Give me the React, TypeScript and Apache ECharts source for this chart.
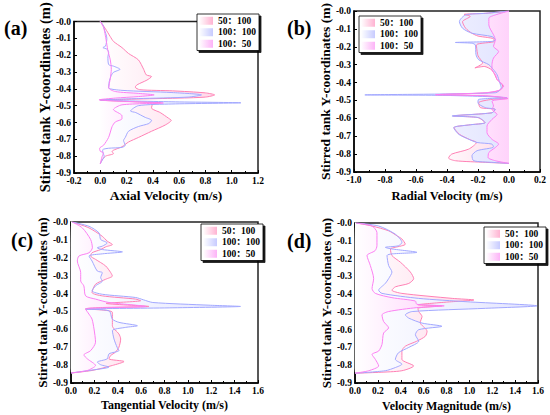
import React, { useEffect, useRef } from 'react';
import * as echarts from 'echarts';

const FONT = '"Liberation Serif", "Times New Roman", "Noto Sans CJK SC", serif';

const seriesNames = ['50：100', '100：100', '100：50'];
const panelLabels = ['(a)', '(b)', '(c)', '(d)'];
const xTitles = ['Axial Velocity (m/s)', 'Radial Velocity (m/s)', 'Tangential Velocity (m/s)', 'Velocity Magnitude (m/s)'];
const yTitle = 'Stirred tank Y-coordinates (m)';
const xMins = [-0.2, -1.0, 0, 0];
const xMaxs = [1.2, 0.2, 1.6, 1.6];
const yMin = -0.9;
const yMax = 0;

// (a) Axial velocity
const axial_50_100 = [[0,0],[0.04,-0.044],[0.076,-0.09],[0.10,-0.118],[0.165,-0.155],[0.215,-0.19],[0.29,-0.228],[0.33,-0.284],[0.35,-0.317],[0.39,-0.327],[0.355,-0.348],[0.28,-0.376],[0.266,-0.39],[0.30,-0.405],[0.55,-0.412],[0.80,-0.424],[0.87,-0.436],[0.80,-0.449],[0.55,-0.456],[0.2,-0.462],[0.0,-0.467],[0.3,-0.478],[0.46,-0.483],[0.40,-0.49],[0.39,-0.514],[0.456,-0.541],[0.52,-0.575],[0.54,-0.587],[0.494,-0.615],[0.39,-0.652],[0.29,-0.689],[0.215,-0.716],[0.165,-0.744],[0.09,-0.772],[0.10,-0.785],[0.04,-0.80],[0.01,-0.827],[0,-0.845]];
const axial_100_100 = [[0,0],[0.02,-0.02],[0.03,-0.044],[0.05,-0.1],[0.04,-0.146],[0.02,-0.155],[0.05,-0.164],[0.064,-0.182],[0.058,-0.21],[0.064,-0.256],[0.10,-0.265],[0.15,-0.284],[0.10,-0.302],[0.084,-0.32],[0.068,-0.357],[0.064,-0.394],[0.165,-0.409],[0.545,-0.422],[0.77,-0.436],[0.67,-0.449],[0.29,-0.458],[0,-0.466],[0.545,-0.477],[1.07,-0.483],[0.545,-0.49],[0.29,-0.50],[0.23,-0.532],[0.27,-0.541],[0.34,-0.569],[0.39,-0.587],[0.37,-0.606],[0.29,-0.624],[0.215,-0.652],[0.19,-0.689],[0.177,-0.707],[0.19,-0.735],[0.165,-0.748],[0.063,-0.753],[0.018,-0.762],[0.02,-0.78],[0.03,-0.80],[0.01,-0.83],[0,-0.845]];
const axial_100_50 = [[0,0],[0.025,-0.035],[0.038,-0.081],[0.05,-0.136],[0.058,-0.173],[0.076,-0.228],[0.084,-0.284],[0.076,-0.339],[0.064,-0.394],[0.114,-0.416],[0.29,-0.427],[0.41,-0.436],[0.29,-0.446],[0.114,-0.455],[-0.01,-0.465],[0.3,-0.478],[0.48,-0.484],[0.165,-0.495],[0.10,-0.523],[0.165,-0.56],[0.165,-0.578],[0.114,-0.597],[0.09,-0.624],[0.063,-0.689],[0.025,-0.735],[-0.005,-0.753],[0,-0.771],[0.025,-0.78],[0.015,-0.80],[0.005,-0.83],[0,-0.845]];

// (b) Radial velocity
const radial_50_100 = [[0,0],[-0.15,-0.013],[-0.29,-0.019],[-0.25,-0.03],[-0.30,-0.06],[-0.28,-0.096],[-0.24,-0.124],[-0.20,-0.14],[-0.14,-0.148],[-0.10,-0.155],[-0.095,-0.17],[-0.21,-0.19],[-0.2,-0.25],[-0.17,-0.29],[-0.22,-0.318],[-0.16,-0.31],[-0.11,-0.33],[-0.09,-0.36],[-0.077,-0.383],[-0.04,-0.42],[-0.06,-0.444],[-0.15,-0.458],[-0.47,-0.468],[-0.15,-0.475],[-0.01,-0.489],[-0.11,-0.494],[-0.196,-0.513],[-0.185,-0.54],[-0.09,-0.55],[-0.11,-0.569],[-0.36,-0.587],[-0.2,-0.596],[-0.155,-0.624],[-0.26,-0.637],[-0.355,-0.652],[-0.32,-0.689],[-0.25,-0.72],[-0.21,-0.735],[-0.26,-0.772],[-0.37,-0.80],[-0.39,-0.822],[-0.346,-0.837],[-0.153,-0.846],[0,-0.852]];
const radial_100_100 = [[0,0],[-0.153,-0.013],[-0.28,-0.022],[-0.32,-0.059],[-0.30,-0.096],[-0.24,-0.124],[-0.11,-0.143],[-0.088,-0.161],[-0.11,-0.17],[-0.346,-0.176],[-0.24,-0.18],[-0.217,-0.19],[-0.213,-0.244],[-0.196,-0.272],[-0.13,-0.30],[-0.10,-0.328],[-0.077,-0.356],[-0.06,-0.40],[-0.05,-0.43],[-0.088,-0.457],[-0.93,-0.469],[-0.4,-0.472],[-0.013,-0.485],[-0.196,-0.494],[-0.2,-0.513],[-0.153,-0.54],[-0.088,-0.55],[-0.11,-0.569],[-0.368,-0.587],[-0.196,-0.596],[-0.153,-0.624],[-0.26,-0.637],[-0.357,-0.652],[-0.325,-0.689],[-0.26,-0.717],[-0.206,-0.735],[-0.11,-0.744],[-0.10,-0.76],[-0.206,-0.781],[-0.239,-0.809],[-0.228,-0.837],[-0.11,-0.846],[0,-0.852]];
const radial_100_50 = [[0,0],[-0.088,-0.022],[-0.13,-0.04],[-0.13,-0.078],[-0.10,-0.133],[-0.088,-0.161],[-0.10,-0.198],[-0.067,-0.226],[-0.10,-0.263],[-0.11,-0.30],[-0.11,-0.328],[-0.088,-0.356],[-0.077,-0.383],[-0.034,-0.42],[-0.067,-0.444],[-0.153,-0.457],[-0.475,-0.468],[-0.15,-0.474],[-0.006,-0.489],[-0.11,-0.504],[-0.10,-0.531],[-0.11,-0.55],[-0.077,-0.578],[-0.11,-0.606],[-0.142,-0.643],[-0.142,-0.68],[-0.11,-0.717],[-0.067,-0.744],[-0.088,-0.763],[-0.13,-0.791],[-0.135,-0.819],[-0.088,-0.837],[0,-0.852]];

// (c) Tangential velocity
const tangential_50_100 = [[0.01,0],[0.154,-0.033],[0.268,-0.08],[0.31,-0.107],[0.354,-0.126],[0.297,-0.139],[0.254,-0.154],[0.18,-0.172],[0.168,-0.19],[0.21,-0.209],[0.297,-0.246],[0.34,-0.283],[0.354,-0.302],[0.297,-0.32],[0.21,-0.348],[0.18,-0.394],[0.268,-0.413],[0.553,-0.431],[0.596,-0.44],[0.3,-0.455],[0.667,-0.472],[0.27,-0.478],[0.125,-0.485],[0.354,-0.505],[0.354,-0.58],[0.41,-0.626],[0.425,-0.654],[0.41,-0.70],[0.38,-0.728],[0.34,-0.746],[0.325,-0.765],[0.454,-0.78],[0.354,-0.802],[0.18,-0.83],[0,-0.844]];
const tangential_100_100 = [[0.01,0],[0.154,-0.024],[0.24,-0.061],[0.254,-0.098],[0.31,-0.117],[0.268,-0.135],[0.225,-0.144],[0.268,-0.154],[0.44,-0.167],[0.268,-0.178],[0.154,-0.19],[0.18,-0.218],[0.225,-0.274],[0.268,-0.283],[0.254,-0.311],[0.268,-0.33],[0.21,-0.357],[0.18,-0.385],[0.268,-0.404],[0.553,-0.422],[0.62,-0.435],[0.7,-0.45],[1.18,-0.465],[1.45,-0.472],[0.84,-0.48],[0.125,-0.487],[0.325,-0.496],[0.354,-0.543],[0.41,-0.561],[0.568,-0.58],[0.468,-0.589],[0.354,-0.607],[0.368,-0.654],[0.394,-0.70],[0.41,-0.719],[0.325,-0.737],[0.31,-0.765],[0.225,-0.783],[0.254,-0.798],[0.325,-0.811],[0.154,-0.83],[0,-0.844]];
const tangential_100_50 = [[0.01,0],[0.097,-0.033],[0.168,-0.098],[0.183,-0.144],[0.154,-0.172],[0.068,-0.19],[0.054,-0.218],[0.083,-0.283],[0.083,-0.33],[0.11,-0.357],[0.125,-0.413],[0.21,-0.431],[0.325,-0.45],[0.64,-0.472],[0.27,-0.48],[0.125,-0.487],[0.154,-0.515],[0.18,-0.543],[0.197,-0.598],[0.21,-0.672],[0.168,-0.719],[0.11,-0.743],[0.14,-0.765],[0.21,-0.802],[0.14,-0.83],[0,-0.844]];

// (d) Velocity magnitude
const magnitude_50_100 = [[0.01,0],[0.149,-0.017],[0.294,-0.044],[0.367,-0.072],[0.41,-0.09],[0.44,-0.119],[0.353,-0.137],[0.31,-0.146],[0.323,-0.183],[0.396,-0.22],[0.484,-0.276],[0.513,-0.313],[0.47,-0.34],[0.353,-0.359],[0.323,-0.378],[0.41,-0.396],[0.85,-0.424],[1.04,-0.433],[0.8,-0.445],[0.55,-0.46],[0.76,-0.466],[0.55,-0.48],[0.557,-0.498],[0.586,-0.526],[0.57,-0.56],[0.63,-0.609],[0.615,-0.637],[0.54,-0.665],[0.44,-0.693],[0.41,-0.72],[0.41,-0.767],[0.513,-0.804],[0.41,-0.831],[0.207,-0.84],[0,-0.845]];
const magnitude_100_100 = [[0.01,0],[0.207,-0.017],[0.353,-0.063],[0.41,-0.109],[0.38,-0.128],[0.265,-0.137],[0.323,-0.146],[0.542,-0.165],[0.323,-0.174],[0.28,-0.183],[0.294,-0.239],[0.323,-0.276],[0.294,-0.313],[0.265,-0.34],[0.207,-0.378],[0.236,-0.396],[0.557,-0.424],[0.98,-0.443],[1.59,-0.466],[1.14,-0.48],[0.5,-0.498],[0.44,-0.517],[0.47,-0.535],[0.586,-0.563],[0.76,-0.581],[0.557,-0.60],[0.528,-0.628],[0.557,-0.665],[0.47,-0.70],[0.38,-0.73],[0.353,-0.767],[0.41,-0.794],[0.353,-0.813],[0.265,-0.831],[0,-0.845]];
const magnitude_100_50 = [[0.01,0],[0.149,-0.017],[0.192,-0.054],[0.192,-0.128],[0.175,-0.156],[0.105,-0.183],[0.134,-0.239],[0.163,-0.313],[0.149,-0.369],[0.178,-0.396],[0.323,-0.42],[0.528,-0.439],[0.54,-0.457],[0.78,-0.466],[0.54,-0.476],[0.294,-0.498],[0.236,-0.517],[0.25,-0.554],[0.294,-0.59],[0.25,-0.619],[0.236,-0.683],[0.207,-0.72],[0.149,-0.739],[0.178,-0.767],[0.207,-0.804],[0.12,-0.831],[0,-0.845]];

const panelData = [
  [axial_50_100, axial_100_100, axial_100_50],
  [radial_50_100, radial_100_100, radial_100_50],
  [tangential_50_100, tangential_100_100, tangential_100_50],
  [magnitude_50_100, magnitude_100_100, magnitude_100_50],
];

const lineColors = ['#ff80b4', '#a2a8ff', '#fb80f2'];
const fillColors = ['#ffd9e9', '#e2e4ff', '#ffd3fb'];

export default function App() {
  const ref = useRef<HTMLDivElement>(null);

  useEffect(() => {
    if (!ref.current) return;
    const chart = echarts.init(ref.current, null, { renderer: 'svg' });

    const grids = [
      { left: 74, top: 10, width: 184, height: 163 },
      { left: 354, top: 11, width: 186, height: 161 },
      { left: 71, top: 222, width: 187, height: 161 },
      { left: 355, top: 223, width: 183, height: 160 },
    ];
    const xNameSize = [13.5, 12.5, 12, 12];
    const xNameGap = [16, 18, 16, 17];
    const yNameSize = [14.5, 13.5, 13, 13];
    const yNameGap = [21, 18, 19, 18];
    const legendPos = [
      { left: 197, top: 14 },
      { left: 359, top: 16 },
      { left: 201, top: 224 },
      { left: 484, top: 227 },
    ];
    const labelPos = [
      { x: 4, y: 28 },
      { x: 287, y: 28 },
      { x: 11, y: 240 },
      { x: 287, y: 241 },
    ];

    const grad = (c: string) =>
      new echarts.graphic.LinearGradient(0, 0, 1, 0, [
        { offset: 0, color: '#ffffff' },
        { offset: 1, color: c },
      ]);

    const tickStyle = { color: '#000', width: 1 };
    const labelStyle = { fontFamily: FONT, fontWeight: 'bold' as const, fontSize: 9.5, color: '#000' };

    const xAxes = grids.map((_, g) => ({
      type: 'value',
      gridIndex: g,
      min: xMins[g],
      max: xMaxs[g],
      interval: 0.2,
      name: xTitles[g],
      nameLocation: 'middle',
      nameGap: xNameGap[g],
      nameTextStyle: { fontFamily: FONT, fontWeight: 'bold', fontSize: xNameSize[g], color: '#000' },
      axisLine: { show: true, onZero: false, lineStyle: { color: '#000', width: 1.5 } },
      axisTick: { show: true, inside: true, length: 3, lineStyle: tickStyle },
      minorTick: { show: true, splitNumber: 2, length: 2, lineStyle: tickStyle },
      splitLine: { show: false },
      axisLabel: { ...labelStyle, margin: 3, formatter: (v: number) => v.toFixed(1) },
    }));

    const yAxes = grids.map((_, g) => ({
      type: 'value',
      gridIndex: g,
      min: yMin,
      max: yMax,
      interval: 0.1,
      name: yTitle,
      nameLocation: 'middle',
      nameGap: yNameGap[g],
      nameTextStyle: { fontFamily: FONT, fontWeight: 'bold', fontSize: yNameSize[g], color: '#000' },
      axisLine: { show: true, onZero: false, lineStyle: { color: '#000', width: 1.5 } },
      axisTick: { show: true, inside: true, length: 3, lineStyle: tickStyle },
      splitLine: { show: false },
      axisLabel: { ...labelStyle, margin: 3, formatter: (v: number) => '-' + Math.abs(v).toFixed(1) },
    }));

    const series: any[] = [];
    panelData.forEach((sets, g) => {
      sets.forEach((data, i) => {
        series.push({
          type: 'custom',
          name: 'fill-' + g + '-' + i,
          coordinateSystem: 'cartesian2d',
          xAxisIndex: g,
          yAxisIndex: g,
          data: data,
          encode: { x: 0, y: 1 },
          silent: true,
          z: 1 + i * 0.1,
          renderItem: (params: any, api: any) => {
            if (params.dataIndex !== 0) return null;
            const pts: number[][] = [api.coord([0, data[0][1]])];
            data.forEach((p) => pts.push(api.coord(p)));
            pts.push(api.coord([0, data[data.length - 1][1]]));
            return {
              type: 'polygon',
              shape: { points: pts, smooth: 0.25 },
              style: { fill: grad(fillColors[i]), stroke: 'none' },
            };
          },
        });
      });
      sets.forEach((data, i) => {
        series.push({
          type: 'line',
          name: seriesNames[i],
          xAxisIndex: g,
          yAxisIndex: g,
          data: data,
          symbol: 'none',
          showSymbol: false,
          smooth: 0.25,
          z: 3,
          lineStyle: { color: lineColors[i], width: 1 },
          itemStyle: { color: lineColors[i] },
        });
      });
    });

    const legends = legendPos.map((p) => ({
      ...p,
      orient: 'vertical',
      selectedMode: false,
      icon: 'rect',
      itemWidth: 14,
      itemHeight: 8,
      itemGap: 2,
      padding: [2, 3, 2, 2],
      backgroundColor: '#fff',
      borderColor: '#000',
      borderWidth: 0.8,
      borderRadius: 0,
      shadowColor: 'rgba(0,0,0,0.9)',
      shadowBlur: 0,
      shadowOffsetX: 2,
      shadowOffsetY: 2,
      textStyle: { fontFamily: FONT, fontWeight: 'bold', fontSize: 9.5, color: '#000' },
      data: seriesNames.map((n, i) => ({
        name: n,
        itemStyle: { color: grad(lineColors[i]), borderWidth: 0, opacity: 0.6 },
      })),
    }));

    const graphics = labelPos.map((p, i) => ({
      type: 'text',
      x: p.x,
      y: p.y,
      style: {
        text: panelLabels[i],
        font: 'bold 20px ' + FONT,
        fill: '#000',
        align: 'left',
        verticalAlign: 'middle',
      },
    }));

    chart.setOption({
      animation: false,
      backgroundColor: '#fff',
      grid: grids.map((g) => ({ ...g, show: true, borderColor: '#222', borderWidth: 1.5, backgroundColor: 'transparent' })),
      xAxis: xAxes,
      yAxis: yAxes,
      legend: legends,
      graphic: graphics,
      series,
    });

    return () => chart.dispose();
  }, []);

  return (
    <div
      ref={ref}
      style={{ position: 'fixed', left: 0, top: 0, width: 550, height: 415, background: '#fff' }}
    />
  );
}
